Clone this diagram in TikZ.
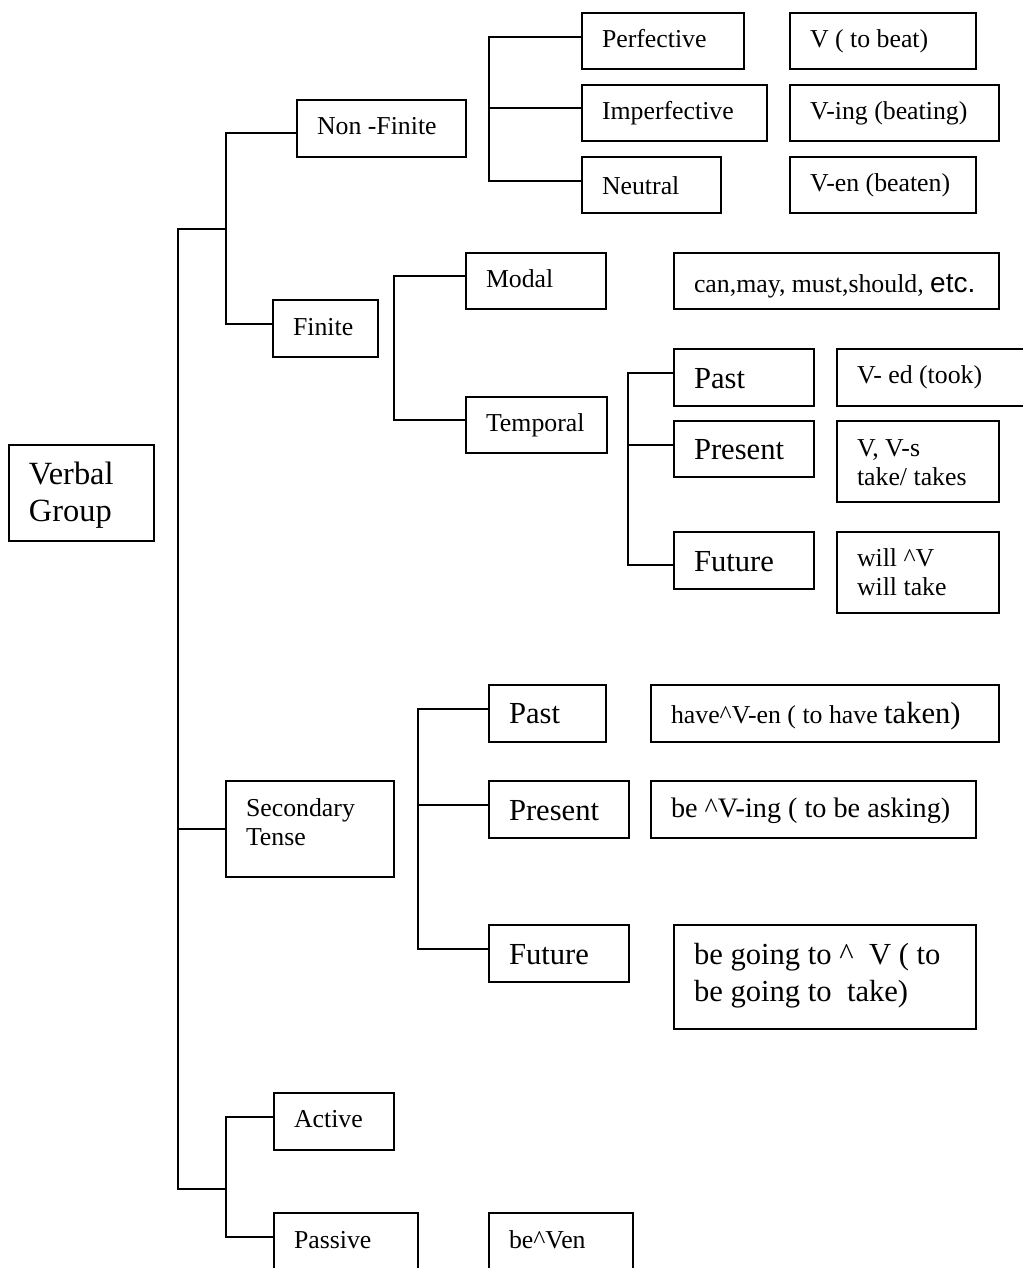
\documentclass[tikz,border=0pt]{standalone}
\usepackage{fontspec}
\setmainfont{Liberation Serif}
\newfontfamily\sansf{Liberation Sans}
\newcommand\smallf{\fontsize{25.8}{29.5}\selectfont}
\newcommand\largef{\fontsize{30.6}{37}\selectfont}
\newcommand\vgf{\fontsize{32.4}{37}\selectfont}
\newcommand\medf{\fontsize{28.2}{32}\selectfont}
\newcommand\ind{\hspace*{20pt}}
\newcommand\crt{\textasciicircum}
\tikzset{
  bx/.style={draw, rectangle, inner sep=0pt, outer sep=0pt, line width=1.8pt},
  link/.style={line width=1.8pt, line join=miter}
}
% #1 name, #2 x1, #3 y1, #4 x2, #5 y2, #6 baseline offset, #7 font, #8 text
\newcommand\bx[8]{%
  \node[bx, minimum width={#4-#2}, minimum height={#5-#3}] (#1) at ({(#2+#4)/2},{(#3+#5)/2})
  {\parbox[c][\dimexpr#5pt-#3pt\relax][t]{\dimexpr#4pt-#2pt\relax}{#7\raggedright\rule{0pt}{#6pt}\ind #8}};}
\begin{document}
\begin{tikzpicture}[x=1pt,y=-1pt]
\useasboundingbox (0,0) rectangle (1022,1268);
% boxes
\bx{vg}{9}{445}{154}{541}{39}{\vgf}{Verbal\\\ind Group}
\bx{nonfinite}{297}{100}{466}{157}{35}{\smallf}{Non -Finite}
\bx{finite}{273}{300}{378}{357}{35}{\smallf}{Finite}
\bx{perf}{582}{13}{744}{69}{35}{\smallf}{Perfective}
\bx{imperf}{582}{85}{767}{141}{35}{\smallf}{Imperfective}
\bx{neutral}{582}{157}{721}{213}{38}{\smallf}{Neutral}
\bx{vbeat}{790}{13}{976}{69}{35}{\smallf}{V ( to beat)}
\bx{vbeating}{790}{85}{999}{141}{35}{\smallf}{V-ing (beating)}
\bx{vbeaten}{790}{157}{976}{213}{35}{\smallf}{V-en (beaten)}
\bx{modal}{466}{253}{606}{309}{34}{\smallf}{Modal}
\bx{modals}{674}{253}{999}{309}{39}{\smallf}{can,may, must,should, {\sansf\fontsize{28}{32}\selectfont etc.}}
\bx{temporal}{466}{397}{607}{453}{34}{\smallf}{Temporal}
\bx{tpast}{674}{349}{814}{406}{39}{\largef}{Past}
\bx{tpres}{674}{421}{814}{477}{38}{\largef}{Present}
\bx{tfut}{674}{532}{814}{589}{39}{\largef}{Future}
\bx{tpastf}{837}{349}{1032}{406}{34}{\smallf}{V- ed (took)}
\bx{tpresf}{837}{421}{999}{502}{35}{\smallf}{V, V-s\\\ind take/ takes}
\bx{tfutf}{837}{532}{999}{613}{34}{\smallf}{will \crt V\\\ind will take}
\bx{sec}{226}{781}{394}{877}{35}{\smallf}{Secondary\\\ind Tense}
\bx{spast}{489}{685}{606}{742}{38}{\largef}{Past}
\bx{spres}{489}{781}{629}{838}{39}{\largef}{Present}
\bx{sfut}{489}{925}{629}{982}{39}{\largef}{Future}
\bx{spastf}{651}{685}{999}{742}{38}{\smallf}{have\crt V-en ( to have {\largef taken)}}
\bx{spresf}{651}{781}{976}{838}{36}{\medf}{be \crt V-ing ( to be asking)}
\bx{sfutf}{674}{925}{976}{1029}{39}{\largef}{be going to \crt\ \ V ( to\\\ind be going to\ \ take)}
\bx{active}{274}{1093}{394}{1150}{34}{\smallf}{Active}
\bx{passive}{274}{1213}{418}{1276}{35}{\smallf}{Passive}
\bx{passivef}{489}{1213}{633}{1276}{35}{\smallf}{be\crt Ven}
% spine points
\coordinate (r1) at (178,229);
\coordinate (r2) at (178,829);
\coordinate (r3) at (178,1189);
\coordinate (n1) at (226,133);
\coordinate (n0) at (226,229);
\coordinate (n2) at (226,324);
\coordinate (a1) at (226,1117);
\coordinate (a0) at (226,1189);
\coordinate (a2) at (226,1237);
\coordinate (p1) at (489,37);
\coordinate (p2) at (489,108);
\coordinate (p3) at (489,181);
\coordinate (m1) at (394,276);
\coordinate (m2) at (394,420);
\coordinate (t1) at (628,373);
\coordinate (t2) at (628,445);
\coordinate (t3) at (628,565);
\coordinate (s1) at (418,709);
\coordinate (s2) at (418,805);
\coordinate (s3) at (418,949);
% connectors
\draw[link] (n0) -- (r1) -- (r3) -- (a0);
\draw[link] (r2) -- (sec.west |- r2);
\draw[link] (nonfinite.west |- n1) -- (n1) -- (n2) -- (finite.west |- n2);
\draw[link] (active.west |- a1) -- (a1) -- (a2) -- (passive.west |- a2);
\draw[link] (perf.west |- p1) -- (p1) -- (p3) -- (neutral.west |- p3);
\draw[link] (p2) -- (imperf.west |- p2);
\draw[link] (modal.west |- m1) -- (m1) -- (m2) -- (temporal.west |- m2);
\draw[link] (tpast.west |- t1) -- (t1) -- (t3) -- (tfut.west |- t3);
\draw[link] (t2) -- (tpres.west |- t2);
\draw[link] (spast.west |- s1) -- (s1) -- (s3) -- (sfut.west |- s3);
\draw[link] (s2) -- (spres.west |- s2);
\end{tikzpicture}
\end{document}
